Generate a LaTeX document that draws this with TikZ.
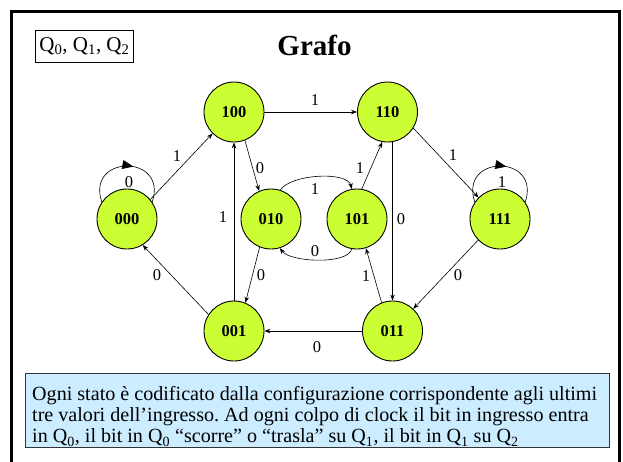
\documentclass[tikz,border=0pt]{standalone}
\usepackage{fontspec}
\setmainfont{Liberation Serif}
\usetikzlibrary{arrows.meta,decorations.markings}
\definecolor{nodefill}{HTML}{CCFF33}
\definecolor{boxfill}{HTML}{CCECFF}
\frenchspacing
\begin{document}
\begin{tikzpicture}[x=1pt,y=-1pt,
  state/.style={circle,draw,line width=0.9pt,fill=nodefill,minimum size=60pt,inner sep=0pt,
    font=\fontsize{16.5}{16.5}\selectfont\bfseries},
  lab/.style={inner sep=0pt,font=\fontsize{16.5}{16.5}\selectfont},
  edge/.style={draw,line width=0.6pt,-{Stealth[length=6pt,width=4.5pt]}},
  selfloop/.style={draw,line width=0.6pt,postaction={decorate},
    decoration={markings,mark=at position 0.56 with {\arrow{Triangle[length=11pt,width=9pt]}}}},
  qbox/.style={draw,line width=0.6pt,inner sep=0pt,minimum width=97.6pt,minimum height=31.7pt,
    font=\fontsize{21}{21}\selectfont},
  infobox/.style={draw=black!80,line width=0.8pt,fill=boxfill,inner sep=0pt,minimum width=584pt,minimum height=74pt},
  infotext/.style={inner sep=0pt,align=left,font=\fontsize{20.1}{21.3}\selectfont}
]
\useasboundingbox (0,0) rectangle (623,461);
\fill[white] (0,0) rectangle (623,461);
\draw[line width=2.7pt] (11.5,11.5) rectangle (619.5,480);

\node[qbox] (q) at (84.5,46) {Q\textsubscript{0}, Q\textsubscript{1}, Q\textsubscript{2}};
\node[font=\fontsize{29}{29}\selectfont\bfseries,anchor=base,inner sep=0pt] (title) at (314.5,55) {Grafo};

\node[state] (n100) at (234,112) {100};
\node[state] (n110) at (387.5,112) {110};
\node[state] (n000) at (127,219) {000};
\node[state] (n010) at (271,219) {010};
\node[state] (n101) at (357,219) {101};
\node[state] (n111) at (500,219) {111};
\node[state] (n001) at (234,331) {001};
\node[state] (n011) at (392.5,331) {011};

% self loops
\path[selfloop] (n000.146) .. controls +(-16,-48) and +(16,-48) .. (n000.34)
  node[lab,at={(129,182)}] {0};
\path[selfloop] (n111.146) .. controls +(-16,-48) and +(16,-48) .. (n111.34)
  node[lab,at={(502,182)}] {1};

% edges
\draw[edge] (n000.40) -- (n100.225) node[lab,at={(177,156)}] {1};
\draw[edge] (n100) -- (n110) node[lab,at={(315,100)}] {1};
\draw[edge] (n100.291) -- (n010.113) node[lab,at={(260,168)}] {0};
\draw[edge] (n010.72) .. controls +(10,-16) and +(-4,-18) .. (n101.100) node[lab,at={(315,189)}] {1};
\draw[edge] (n101.260) .. controls +(-4,16) and +(10,14) .. (n010.287) node[lab,at={(315,251)}] {0};
\draw[edge] (n101.81) -- (n110.260) node[lab,at={(360,168)}] {1};
\draw[edge] (n110.328) -- (n111.135) node[lab,at={(453,155)}] {1};
\draw[edge] (n110.south -| n011) -- (n011.north) node[lab,at={(401,219)}] {0};
\draw[edge] (n001) -- (n100) node[lab,at={(223,217)}] {1};
\draw[edge] (n010.248) -- (n001.68) node[lab,at={(261,275)}] {0};
\draw[edge] (n011.111) -- (n101.287) node[lab,at={(366,276)}] {1};
\draw[edge] (n111.224) -- (n011.47) node[lab,at={(458,275)}] {0};
\draw[edge] (n011) -- (n001) node[lab,at={(317,347)}] {0};
\draw[edge] (n001.147) -- (n000.301) node[lab,at={(157,275)}] {0};

% info box
\node[infobox,anchor=north west] (info) at (25,373) {};
\node[infotext,anchor=north west] (infotxt) at (32,386)
  {Ogni stato è codificato dalla configurazione corrispondente agli ultimi\\
   tre valori dell’ingresso. Ad ogni colpo di clock il bit in ingresso entra\\
   in Q\textsubscript{0}, il bit in Q\textsubscript{0} “scorre” o “trasla” su Q\textsubscript{1}, il bit in Q\textsubscript{1} su Q\textsubscript{2}};
\end{tikzpicture}
\end{document}
